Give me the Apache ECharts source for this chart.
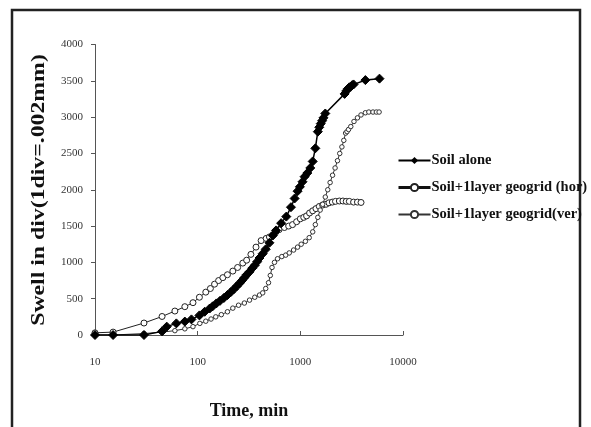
<!DOCTYPE html>
<html>
<head>
<meta charset="utf-8">
<script src="https://cdn.jsdelivr.net/npm/echarts@6/dist/echarts.min.js"></script>
<style>
  html, body { margin: 0; padding: 0; background: #fff; }
  #chart { width: 591px; height: 427px; }
</style>
</head>
<body>
<div id="chart"></div>
<script>
// Swell (divisions) against elapsed time (min), log time axis
const seriesNames = [
  'Soil alone',
  'Soil+1layer geogrid (hor)',
  'Soil+1layer geogrid(ver)'
];

const xTicks = [10, 100, 1000, 10000];
const yTicks = [0, 500, 1000, 1500, 2000, 2500, 3000, 3500, 4000];

// [time (min), swell (div)]
const soilAlone = [
  [10,0],[15,0],[30,0],[45,50],[50,115],[62,160],[75,185],[87,215],[104,270],
  [117,320],[131,365],[140,395],[152,435],[165,470],[180,510],[195,550],[210,590],
  [225,630],[240,670],[255,710],[270,750],[285,790],[300,830],[320,870],[340,920],
  [360,960],[380,1010],[400,1060],[430,1120],[460,1180],[500,1270],[540,1370],
  [580,1440],[650,1540],[730,1630],[810,1760],[880,1880],[940,1980],[990,2040],
  [1050,2110],[1100,2180],[1170,2230],[1250,2300],[1320,2390],[1400,2570],
  [1480,2800],[1530,2860],[1580,2910],[1630,2950],[1680,2990],[1750,3050],
  [2700,3320],[2800,3360],[2900,3390],[3000,3410],[3100,3420],[3200,3440],
  [3300,3450],[4300,3510],[5900,3530]
];

const geogridHor = [
  [10,30],[15,40],[30,165],[45,255],[60,330],[75,390],[90,445],[104,520],
  [120,590],[133,640],[146,700],[160,750],[176,790],[195,830],[220,880],[245,930],
  [275,990],[300,1030],[330,1110],[370,1210],[415,1300],[465,1330],[500,1350],
  [540,1380],[580,1420],[620,1450],[700,1480],[770,1500],[840,1520],[920,1560],
  [1000,1600],[1080,1620],[1150,1640],[1230,1680],[1320,1710],[1420,1740],
  [1530,1770],[1650,1790],[1780,1800],[1900,1820],[2050,1830],[2200,1840],
  [2400,1845],[2600,1845],[2800,1840],[3000,1840],[3300,1830],[3600,1830],[3900,1825]
];

const geogridVer = [
  [10,0],[15,0],[30,20],[45,40],[60,60],[75,85],[90,115],[105,160],[120,190],
  [135,220],[150,250],[170,280],[195,320],[220,370],[250,410],[285,440],[320,480],
  [360,520],[400,550],[430,580],[460,640],[490,720],[510,820],[530,930],[560,1000],
  [600,1050],[660,1080],[720,1100],[780,1130],[860,1170],[940,1210],[1020,1250],
  [1120,1290],[1220,1340],[1320,1420],[1400,1520],[1480,1620],[1560,1720],
  [1650,1800],[1750,1900],[1850,2000],[1950,2100],[2060,2200],[2180,2300],
  [2300,2400],[2420,2500],[2540,2590],[2650,2680],[2760,2780],[2850,2800],
  [2950,2830],[3100,2870],[3330,2940],[3600,2990],[3900,3030],[4300,3060],
  [4650,3070],[5100,3070],[5500,3070],[5850,3070]
];

const serif = '"Liberation Serif", "DejaVu Serif", serif';

const chart = echarts.init(document.getElementById('chart'), null, { renderer: 'canvas' });

chart.setOption({
  animation: false,
  backgroundColor: '#ffffff',
  grid: { left: 95, right: 188, top: 44.5, bottom: 92, containLabel: false },
  xAxis: {
    type: 'log',
    logBase: 10,
    min: xTicks[0],
    max: xTicks[xTicks.length - 1],
    name: 'Time, min',
    nameLocation: 'middle',
    nameGap: 67,
    nameTextStyle: { fontFamily: serif, fontWeight: 'bold', fontSize: 18, color: '#111' },
    axisLine: { lineStyle: { color: '#555', width: 1 } },
    axisTick: { inside: true, length: 4, lineStyle: { color: '#555' } },
    axisLabel: { margin: 22, fontFamily: serif, fontSize: 11, color: '#333', formatter: v => String(v) },
    splitLine: { show: false },
    minorTick: { show: false }
  },
  yAxis: {
    type: 'value',
    min: yTicks[0],
    max: yTicks[yTicks.length - 1],
    interval: 500,
    axisLine: { show: true, lineStyle: { color: '#555', width: 1 } },
    axisTick: { show: true, length: 4, lineStyle: { color: '#555' } },
    axisLabel: { margin: 12, fontFamily: serif, fontSize: 11, color: '#333', formatter: v => String(v) },
    splitLine: { show: false }
  },
  legend: {
    orient: 'vertical',
    left: 392,
    top: 148,
    itemWidth: 32,
    itemHeight: 9,
    itemGap: 12,
    textStyle: { fontFamily: serif, fontWeight: 'bold', fontSize: 14.5, color: '#111', padding: [0, 0, 0, -4] },
    data: [
      { name: seriesNames[0] },
      { name: seriesNames[1], lineStyle: { width: 3, color: '#111' } },
      { name: seriesNames[2] }
    ]
  },
  graphic: [
    {
      type: 'polyline',
      shape: { points: [[12, 440], [12, 10], [580, 10], [580, 440]] },
      style: { stroke: '#222', lineWidth: 2.5, fill: null }
    },
    {
      // vertical axis title, stretched along its baseline
      type: 'text',
      x: 39,
      y: 190,
      rotation: Math.PI / 2,
      scaleX: 1.32,
      style: {
        text: 'Swell in div(1div=.002mm)',
        font: 'bold 18px ' + serif,
        fill: '#111',
        align: 'center',
        verticalAlign: 'middle'
      }
    }
  ],
  series: [
    {
      name: seriesNames[0],
      type: 'line',
      data: soilAlone,
      symbol: 'diamond',
      symbolSize: 9,
      lineStyle: { color: '#000', width: 1.5 },
      itemStyle: { color: '#000', borderColor: '#000' },
      z: 3
    },
    {
      name: seriesNames[1],
      type: 'line',
      data: geogridHor,
      symbol: 'circle',
      symbolSize: 6,
      lineStyle: { color: '#222', width: 1 },
      itemStyle: { color: '#fff', borderColor: '#222', borderWidth: 1 },
      z: 2
    },
    {
      name: seriesNames[2],
      type: 'line',
      data: geogridVer,
      symbol: 'circle',
      symbolSize: 4.5,
      lineStyle: { color: '#333', width: 1 },
      itemStyle: { color: '#fff', borderColor: '#333', borderWidth: 1 },
      z: 2
    }
  ]
});
</script>
</body>
</html>
